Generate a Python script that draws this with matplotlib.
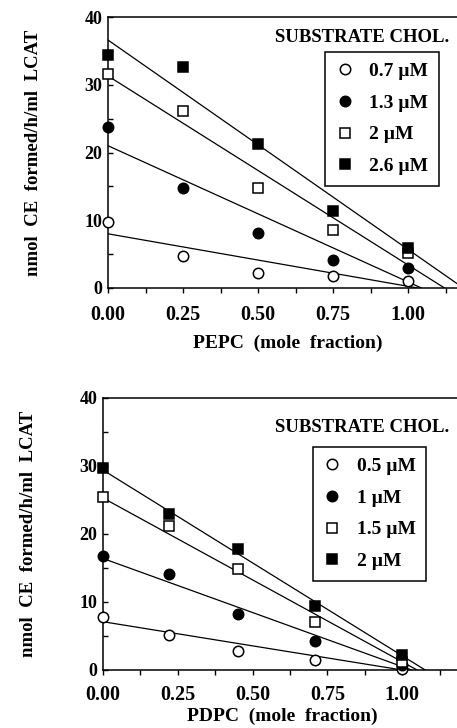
import numpy as np
import matplotlib
matplotlib.use("Agg")
import matplotlib.pyplot as plt
from matplotlib.ticker import MultipleLocator

# === DATA ===
# top panel: PEPC
pepc_x = [0.0, 0.25, 0.5, 0.75, 1.0]
pepc_labels = ["0.7 \u00b5M", "1.3 \u00b5M", "2 \u00b5M", "2.6 \u00b5M"]
pepc_y = [
    [9.7, 4.7, 2.2, 1.7, 1.1],
    [23.7, 14.8, 8.1, 4.2, 3.0],
    [31.6, 26.1, 14.8, 8.5, 5.2],
    [34.4, 32.6, 21.2, 11.4, 5.9],
]
pepc_fit_b = [8.0, 21.0, 31.3, 36.6]
pepc_fit_m = [-7.75, -20.1, -27.9, -30.9]

# bottom panel: PDPC
pdpc_x = [0.0, 0.22, 0.45, 0.71, 1.0]
pdpc_labels = ["0.5 \u00b5M", "1 \u00b5M", "1.5 \u00b5M", "2 \u00b5M"]
pdpc_y = [
    [7.8, 5.1, 2.8, 1.5, 0.1],
    [16.7, 14.1, 8.3, 4.2, 0.7],
    [25.5, 21.2, 14.8, 7.1, 1.2],
    [29.7, 23.0, 17.8, 9.4, 2.2],
]
pdpc_fit_b = [7.1, 16.4, 25.3, 29.4]
pdpc_fit_m = [-7.1, -15.9, -24.1, -27.3]

xtick_vals = [0, 0.25, 0.5, 0.75, 1.0]
xtick_labels = ["0.00", "0.25", "0.50", "0.75", "1.00"]

# === STYLE ===
plt.rcParams['font.family'] = ['Liberation Serif', 'DejaVu Serif']
plt.rcParams['font.weight'] = 'bold'
MARKERS = [
    dict(marker='o', mfc='white', mec='black', ms=7.5),
    dict(marker='o', mfc='black', mec='black', ms=7.5),
    dict(marker='s', mfc='white', mec='black', ms=7.5),
    dict(marker='s', mfc='black', mec='black', ms=7.5),
]

W, H = 457, 728
fig = plt.figure(figsize=(W / 100, H / 100), dpi=100)


def panel(rect, xs, ys, labels, fb, fm, xlabel, leg_xy, title_xy,
          tickpad, xlabelpad):
    ax = fig.add_axes(rect)
    for y, lab, mk, b, m in zip(ys, labels, MARKERS, fb, fm):
        x_end = -b / m
        xx = np.array([0.0, x_end])
        ax.plot(xx, b + m * xx, color='black', lw=0.9, zorder=2)
        ax.plot(xs, y, ls='none', label=lab, clip_on=False, zorder=3,
                mew=1.1, **mk)
    ax.set_xlim(0, 1.2)
    ax.set_ylim(0, 40)
    ax.spines['right'].set_visible(False)
    for s in ['left', 'top', 'bottom']:
        ax.spines[s].set_linewidth(1.1)
    ax.xaxis.set_minor_locator(MultipleLocator(0.125))
    ax.yaxis.set_major_locator(MultipleLocator(10))
    ax.yaxis.set_minor_locator(MultipleLocator(5))
    ax.set_xticks(xtick_vals)
    ax.set_xticklabels(xtick_labels)
    ax.tick_params(axis='x', which='both', direction='out', length=3.5,
                   width=1, labelsize=14.5, pad=tickpad)
    ax.tick_params(axis='y', which='both', direction='in', length=3.5,
                   width=1, labelsize=13, pad=4)
    for t in ax.get_xticklabels() + ax.get_yticklabels():
        t.set_fontweight('bold')
    ax.set_xlabel(xlabel, fontsize=14, fontweight='bold', labelpad=xlabelpad)
    ax.set_ylabel("nmol  CE  formed/h/ml  LCAT", fontsize=13.5,
                  fontweight='bold', labelpad=31)
    ax.text(title_xy[0], title_xy[1], "SUBSTRATE CHOL.",
            transform=ax.transAxes, fontsize=13.5, fontweight='bold',
            va='center', ha='left')
    leg = ax.legend(loc='upper left', bbox_to_anchor=leg_xy, borderaxespad=0,
                    frameon=True, fancybox=False, edgecolor='black',
                    framealpha=1, handlelength=0.9, handletextpad=0.8,
                    labelspacing=0.72, borderpad=0.55,
                    prop=dict(family='Liberation Serif', weight='bold',
                              size=14))
    leg.get_frame().set_linewidth(1.1)
    return ax


# top: x0 at 108 px, y 17..288 px
panel([108 / W, (H - 288) / H, 360 / W, 271 / H], pepc_x, pepc_y,
      pepc_labels, pepc_fit_b, pepc_fit_m, "PEPC  (mole  fraction)",
      (0.603, 0.871), (0.464, 0.926), 8.5, 7)
# bottom: x0 at 103 px, y 398..670 px
panel([103 / W, (H - 670) / H, 359 / W, 272 / H], pdpc_x, pdpc_y,
      pdpc_labels, pdpc_fit_b, pdpc_fit_m, "PDPC  (mole  fraction)",
      (0.585, 0.82), (0.479, 0.89), 7.5, 1.5)

fig.savefig("out.png", dpi=100)
